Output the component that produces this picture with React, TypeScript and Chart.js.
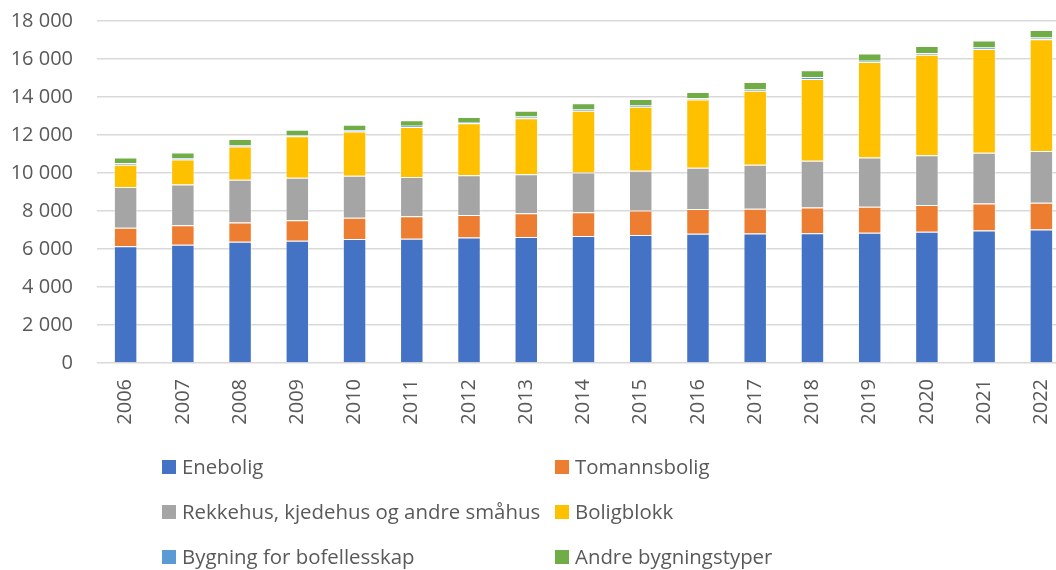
import React, { useEffect, useRef } from "react";
import { Chart, registerables } from "chart.js";

Chart.register(...registerables);

const years = ["2006", "2007", "2008", "2009", "2010", "2011", "2012", "2013", "2014", "2015", "2016", "2017", "2018", "2019", "2020", "2021", "2022"];
const enebolig = [6150, 6230, 6380, 6440, 6530, 6540, 6600, 6630, 6680, 6740, 6800, 6810, 6830, 6860, 6910, 6970, 7020];
const tomannsbolig = [970, 1020, 1020, 1070, 1120, 1180, 1190, 1250, 1250, 1280, 1310, 1310, 1350, 1370, 1400, 1420, 1420];
const rekkehus = [2140, 2140, 2240, 2240, 2210, 2070, 2090, 2050, 2090, 2100, 2160, 2320, 2460, 2580, 2630, 2680, 2720];
const boligblokk = [1170, 1320, 1760, 2180, 2330, 2630, 2740, 2950, 3260, 3370, 3600, 3890, 4310, 5030, 5280, 5460, 5880];
const bofellesskap = [90, 75, 60, 70, 70, 70, 70, 90, 90, 90, 60, 70, 90, 70, 90, 70, 90];
const andre = [300, 290, 330, 280, 280, 280, 260, 300, 300, 310, 330, 390, 370, 380, 370, 370, 400];

const seriesNames = ["Enebolig", "Tomannsbolig", "Rekkehus, kjedehus og andre småhus", "Boligblokk", "Bygning for bofellesskap", "Andre bygningstyper"];
const seriesColors = ["#4472C4", "#ED7D31", "#A5A5A5", "#FFC000", "#5B9BD5", "#70AD47"];
const seriesValues = [enebolig, tomannsbolig, rekkehus, boligblokk, bofellesskap, andre];

const yTickMax = 18000;
const yTickStep = 2000;

const fmt = (n: number) => String(n).replace(/\B(?=(\d{3})+(?!\d))/g, " ");

const legendPlugin = {
  id: "twoColLegend",
  afterDraw(chart: any) {
    const ctx = chart.ctx;
    const cols = [162, 555];
    const rows = [467, 512, 557];
    ctx.save();
    ctx.font = '20.4px "Open Sans", sans-serif';
    ctx.textBaseline = "middle";
    ctx.textAlign = "left";
    chart.data.datasets.forEach((ds: any, i: number) => {
      const x = cols[i % 2];
      const y = rows[Math.floor(i / 2)];
      ctx.fillStyle = ds.backgroundColor;
      ctx.fillRect(x, y - 7, 14, 14);
      ctx.fillStyle = "#595959";
      ctx.fillText(ds.label, x + 20, y + 1);
    });
    ctx.restore();
  },
};

export default function App() {
  const ref = useRef<HTMLCanvasElement | null>(null);
  useEffect(() => {
    if (!ref.current) return;
    const chart = new Chart(ref.current, {
      type: "bar",
      data: {
        labels: years,
        datasets: seriesNames.map((name, i) => ({
          label: name,
          data: seriesValues[i],
          backgroundColor: seriesColors[i],
          borderColor: "rgba(255,255,255,0.45)",
          borderWidth: 1,
          barPercentage: 0.41,
          categoryPercentage: 1,
        })),
      },
      options: {
        animation: false,
        responsive: false,
        devicePixelRatio: 1,
        layout: { padding: { top: 21, left: 0, right: 0, bottom: 0 } },
        plugins: {
          legend: { display: false },
          tooltip: { enabled: false },
        },
        scales: {
          x: {
            stacked: true,
            grid: { display: false, drawTicks: false },
            border: { display: false },
            ticks: {
              minRotation: 90,
              maxRotation: 90,
              padding: 16,
              color: "#595959",
              font: { family: '"Open Sans"', size: 20 },
            },
            afterFit(scale: any) {
              scale.height = 207;
              scale.paddingLeft = 0;
              scale.paddingRight = 0;
            },
          },
          y: {
            stacked: true,
            min: 0,
            max: yTickMax,
            grid: { color: "#d9d9d9", lineWidth: 1.5, drawTicks: false },
            border: { display: false },
            ticks: {
              stepSize: yTickStep,
              padding: 24,
              color: "#595959",
              font: { family: '"Open Sans"', size: 20 },
              callback: (v: any) => fmt(Number(v)),
            },
            afterFit(scale: any) {
              scale.width = 97;
              scale.paddingTop = 0;
              scale.paddingBottom = 0;
            },
          },
        },
      },
      plugins: [legendPlugin],
    });
    return () => chart.destroy();
  }, []);
  return (
    <div style={{ position: "absolute", left: 0, top: 0, width: 1056, height: 570, overflow: "hidden", background: "#fff" }}>
      <canvas ref={ref} width={1070} height={570} style={{ display: "block" }} />
    </div>
  );
}
